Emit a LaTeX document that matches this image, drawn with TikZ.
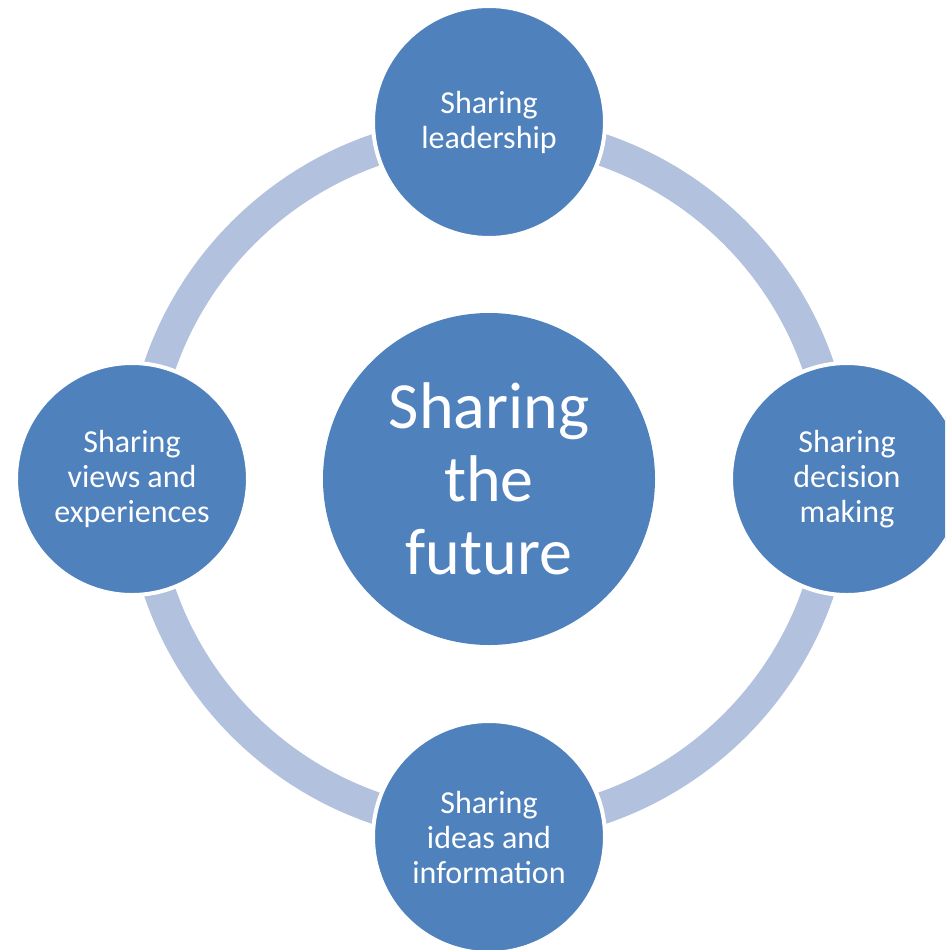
\documentclass[tikz,border=0pt]{standalone}
\usepackage{fontspec}
\setmainfont{Carlito}
\definecolor{nodeblue}{HTML}{4F81BD}
\definecolor{ringblue}{HTML}{B2C1DD}
\tikzset{
  sat/.style={circle, fill=nodeblue, draw=white, line width=4pt, minimum size=232pt,
    inner sep=0pt, text=white, align=center, font=\fontsize{32}{35}\selectfont},
  hub/.style={circle, fill=nodeblue, minimum size=332pt, inner sep=0pt,
    text=white, align=center, font=\fontsize{66}{73}\selectfont},
  ring/.style={draw=ringblue, line width=32pt}
}
\begin{document}
\begin{tikzpicture}[x=1pt,y=-1pt]
\useasboundingbox (0,0) rectangle (945,950);
\clip (0,0) rectangle (945,950);
\coordinate (c) at (489,479);
\draw[ring] (c) circle[radius=348];
\node[hub] (hub) at (c) {Sharing\\the\\future};
\node[sat] (top) at (489,122) {Sharing\\leadership};
\node[sat] (right) at (847,479) {Sharing\\decision\\making};
\node[sat] (bottom) at (489,837) {Sharing\\ideas and\\information};
\node[sat] (left) at (132,479) {Sharing\\views and\\experiences};
\end{tikzpicture}
\end{document}
